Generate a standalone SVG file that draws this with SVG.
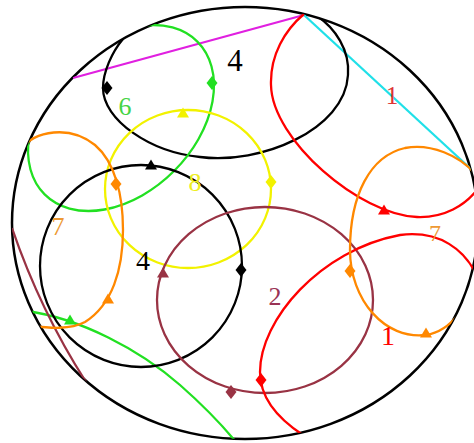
<svg xmlns="http://www.w3.org/2000/svg" xmlns:xlink="http://www.w3.org/1999/xlink" width="474" height="443" viewBox="0 0 474 443">
<style>
.c{fill:none;stroke-width:2.3;stroke-linejoin:round}
.lbl{font-family:"Liberation Serif","DejaVu Serif",serif;text-anchor:middle}
</style>
<defs>
<clipPath id="disk"><ellipse cx="245" cy="223" rx="233" ry="216"/></clipPath>
<polygon id="tri" points="0,-5.5 6,4.5 -6,4.5"/>
<polygon id="dia" points="0,-7 5.5,0 0,7 -5.5,0"/>
</defs>
<rect width="474" height="443" fill="#fff"/>
<g id="boundary"><ellipse cx="245" cy="223" rx="233" ry="216" fill="none" stroke="#000" stroke-width="2.5"/></g>
<g clip-path="url(#disk)">
<g id="connectors">
<line class="c" x1="73" y1="78" x2="304" y2="15" stroke="#e020e0"/>
<line class="c" x1="304" y1="15" x2="472" y2="170" stroke="#20e0e8"/>
<path class="c" d="M26,311 C80,318 140,350 180,385 C205,407 222,425 236,442" stroke="#22e022"/>
<path class="c" d="M12,228 Q40,310 86,382" stroke="#993344"/>
</g>
<g id="circle-4-top">
<path class="c" d="M123,39 C112,52 103,72 103,88 C103,120 150,152 200,157 C260,165 345,130 348,75 C350,50 335,28 317,16" stroke="#000"/>
<use xlink:href="#dia" x="107" y="88" fill="#000"/>
</g>
<g id="circle-6">
<ellipse class="c" cx="0" cy="0" rx="108" ry="75" transform="translate(121,118) rotate(-45)" stroke="#22e022"/>
<use xlink:href="#dia" x="212" y="83" fill="#22e022"/>
</g>
<g id="circle-8">
<ellipse class="c" cx="188" cy="189" rx="83" ry="79" stroke="#f2f200"/>
<use xlink:href="#tri" x="183" y="113" fill="#f2f200"/>
<use xlink:href="#dia" x="271" y="182" fill="#f2f200"/>
</g>
<g id="circle-4-left">
<circle class="c" cx="141" cy="266" r="101" stroke="#000"/>
<use xlink:href="#tri" x="151" y="165" fill="#000"/>
<use xlink:href="#dia" x="241" y="270" fill="#000"/>
</g>
<g id="circle-7-left">
<path class="c" d="M20,150 C35,130 70,125 95,145 C115,162 123,195 123,230 C123,270 112,305 85,322 C70,330 50,328 30,326" stroke="#ff8800"/>
<use xlink:href="#dia" x="116" y="184" fill="#ff8800"/>
<use xlink:href="#tri" x="108" y="299" fill="#ff8800"/>
<use xlink:href="#tri" x="70" y="320" fill="#22e022"/>
</g>
<g id="circle-2">
<ellipse class="c" cx="265" cy="300" rx="108" ry="93" stroke="#993344"/>
<use xlink:href="#tri" x="163" y="273" fill="#993344"/>
<use xlink:href="#dia" x="231" y="392" fill="#993344"/>
</g>
<g id="circle-1-top">
<path class="c" d="M304,14 C285,30 270,55 271,85 C272,140 360,215 417,217 C445,218 465,205 477,190" stroke="#ff0000"/>
<use xlink:href="#tri" x="384" y="210" fill="#ff0000"/>
</g>
<g id="circle-1-bottom">
<path class="c" d="M303,435 C280,420 260,400 260,372 C260,320 320,250 400,235 C440,230 465,250 477,276" stroke="#ff0000"/>
<use xlink:href="#dia" x="261" y="380" fill="#ff0000"/>
</g>
<g id="circle-7-right">
<path class="c" d="M477,176 C460,155 430,143 405,148 C370,156 350,195 350,250 C350,300 385,340 426,335 C440,333 450,325 459,314" stroke="#ff8800"/>
<use xlink:href="#dia" x="350" y="271" fill="#ff8800"/>
<use xlink:href="#tri" x="426" y="333" fill="#ff8800"/>
</g>
</g>
<g id="labels">
<text class="lbl" x="235" y="71" font-size="31" fill="#000">4</text>
<text class="lbl" x="125" y="115" font-size="26" fill="#44d444">6</text>
<text class="lbl" x="195" y="191" font-size="26" fill="#eeee22">8</text>
<text class="lbl" x="143" y="270" font-size="28" fill="#000">4</text>
<text class="lbl" x="58" y="235" font-size="26" fill="#ee9933">7</text>
<text class="lbl" x="275" y="305" font-size="26" fill="#993355">2</text>
<text class="lbl" x="392" y="104" font-size="25" fill="#dd3333">1</text>
<text class="lbl" x="435" y="241" font-size="24" fill="#ee9933">7</text>
<text class="lbl" x="388" y="345" font-size="28" fill="#ff0000">1</text>
</g>
</svg>
